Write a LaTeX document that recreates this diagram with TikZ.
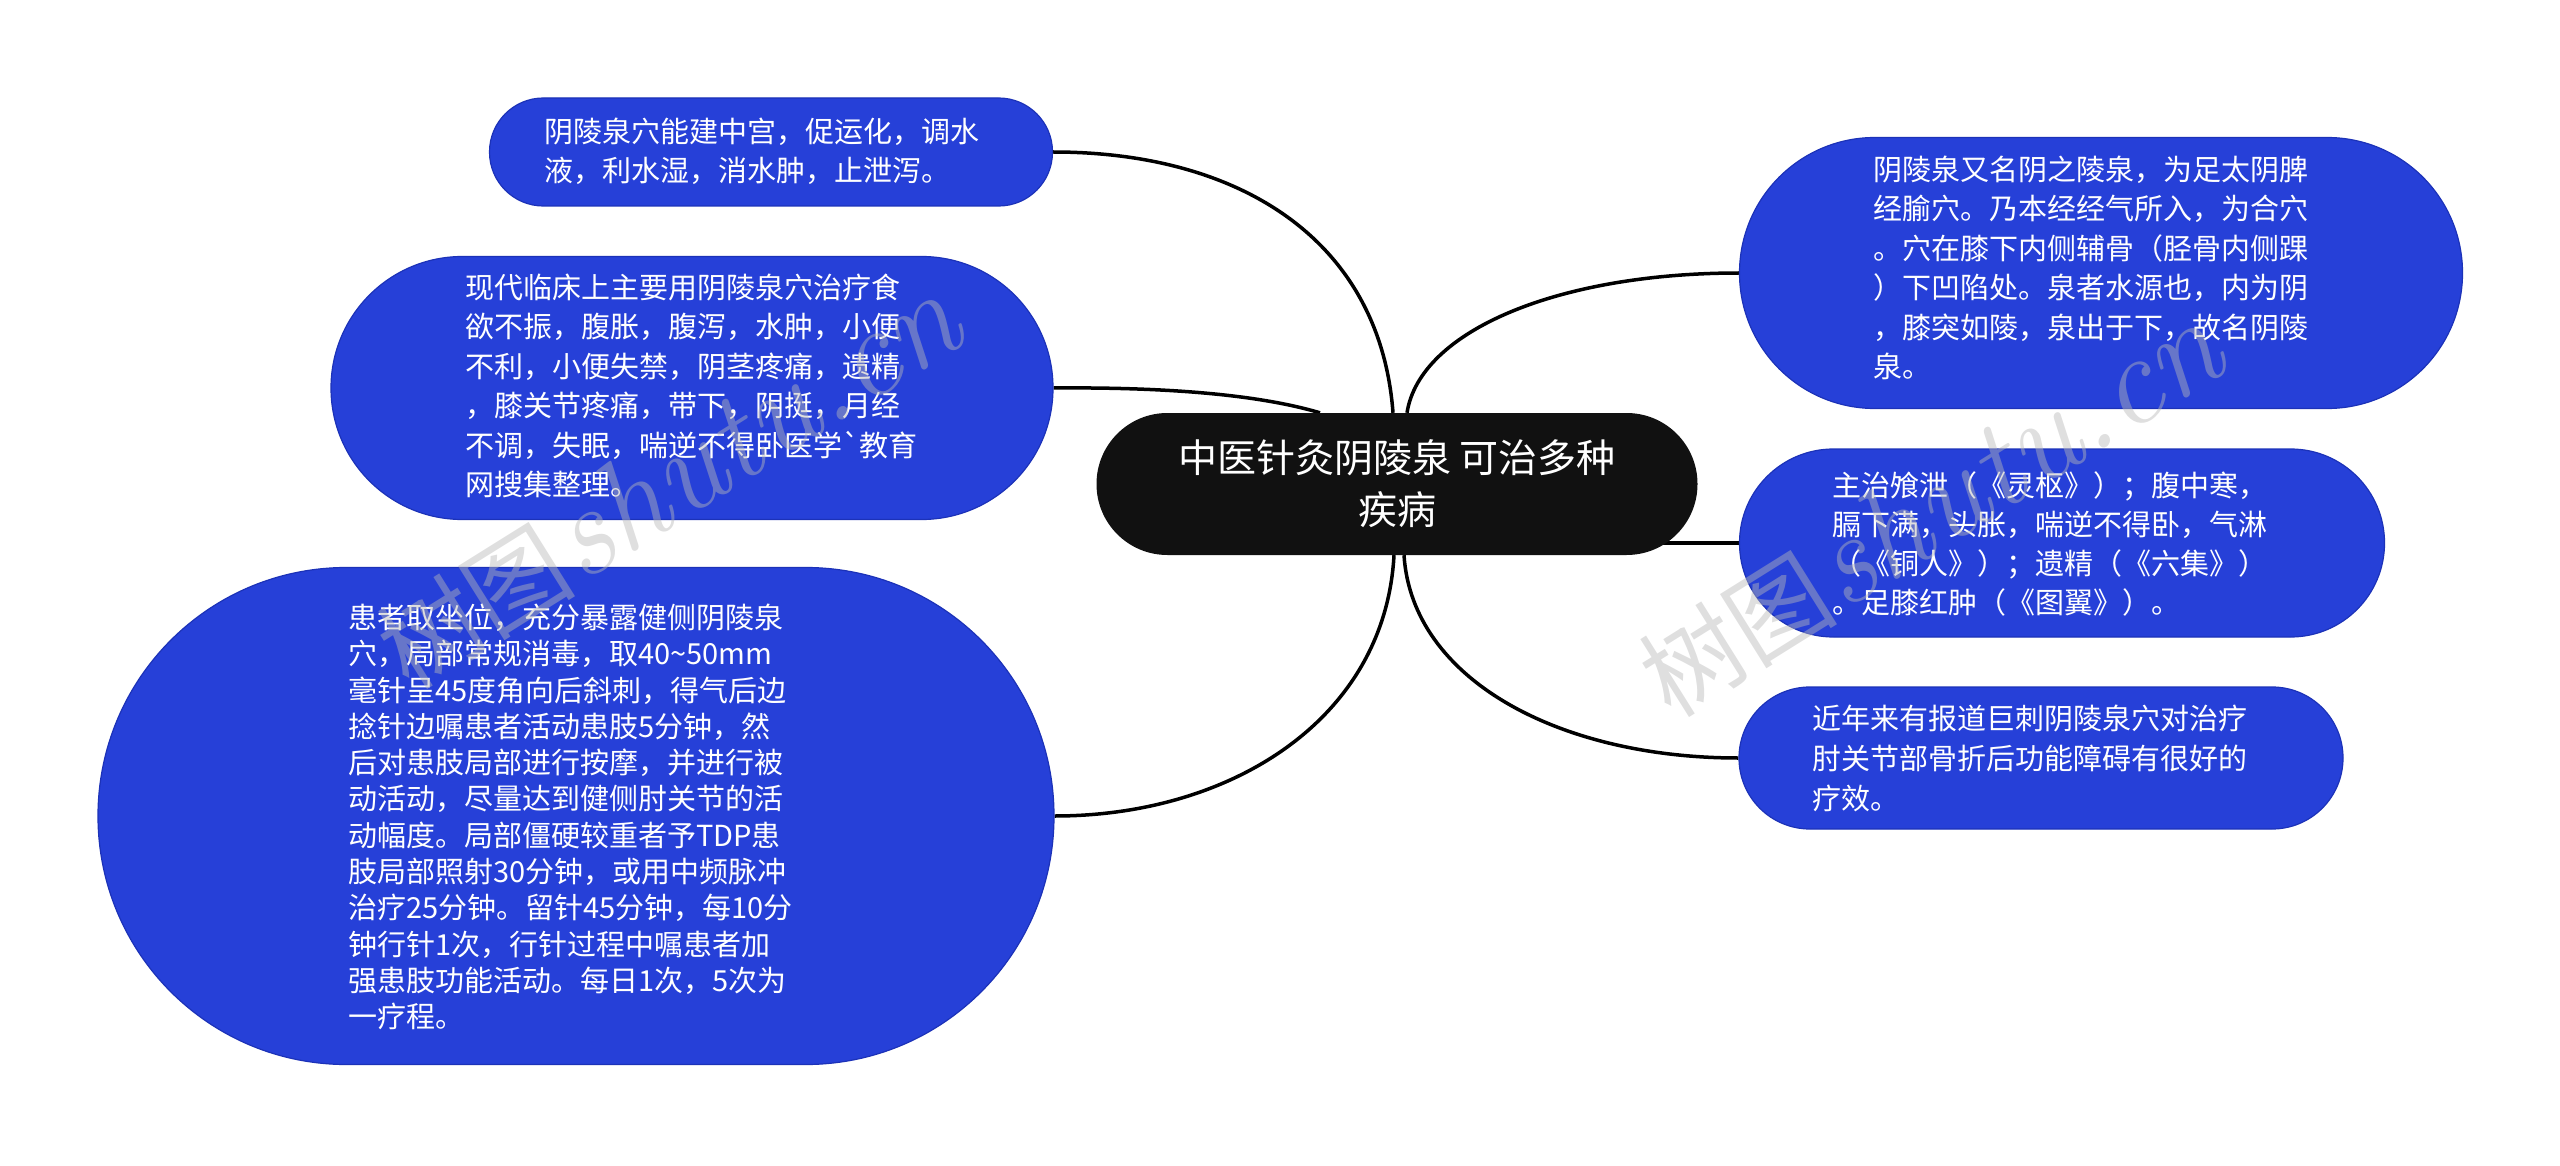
\documentclass[tikz,border=0pt]{standalone}
\usepackage{fontspec}
\newfontfamily\cjk{Noto Sans CJK SC}
\usetikzlibrary{calc}
\pgfdeclarelayer{bg}
\pgfsetlayers{bg,main}
\definecolor{bub}{HTML}{2640D8}
\definecolor{bubline}{HTML}{1C32B8}
\definecolor{core}{HTML}{111111}
\begin{document}
\begin{tikzpicture}[x=1pt,y=-1pt,
  bubble/.style={fill=bub,draw=bubline,line width=1.2pt,inner sep=0pt},
  txt/.style={text=white,font=\cjk\fontsize{29}{39}\selectfont,align=left,anchor=west,inner sep=0pt},
  link/.style={draw=black,line width=3.5pt},
  wm/.style={text=black!28,opacity=0.45,inner sep=0pt}]
\useasboundingbox (0,0) rectangle (2560,1166);

% central
\node[fill=core,rounded corners=70.9pt,minimum width=601pt,minimum height=142pt,
      text=white,font=\cjk\fontsize{39}{52}\selectfont,align=center] (c) at (1397,484)
      {中医针灸阴陵泉 可治多种\\疾病};

% left bubbles
\node[bubble,minimum width=563pt,minimum height=108pt,rounded corners=53.9pt] (n1) at (771,152) {};
\node[txt] (t1) at (544,151) {阴陵泉穴能建中宫，促运化，调水\\液，利水湿，消水肿，止泄泻。};

\node[bubble,minimum width=722pt,minimum height=263pt,rounded corners=131.4pt] (n2) at (692,388) {};
\node[txt,font=\cjk\fontsize{29}{39.5}\selectfont] (t2) at (465,386) {现代临床上主要用阴陵泉穴治疗食\\欲不振，腹胀，腹泻，水肿，小便\\不利，小便失禁，阴茎疼痛，遗精\\，膝关节疼痛，带下，阴挺，月经\\不调，失眠，喘逆不得卧医学`教育\\网搜集整理。};

\node[bubble,minimum width=956pt,minimum height=497pt,rounded corners=248.4pt] (n3) at (576,816) {};
\node[txt,font=\cjk\fontsize{29}{36.3}\selectfont] (t3) at (348,817) {患者取坐位，充分暴露健侧阴陵泉\\穴，局部常规消毒，取40{\char"007E}50mm\\毫针呈45度角向后斜刺，得气后边\\捻针边嘱患者活动患肢5分钟，然\\后对患肢局部进行按摩，并进行被\\动活动，尽量达到健侧肘关节的活\\动幅度。局部僵硬较重者予TDP患\\肢局部照射30分钟，或用中频脉冲\\治疗25分钟。留针45分钟，每10分\\钟行针1次，行针过程中嘱患者加\\强患肢功能活动。每日1次，5次为\\一疗程。};

% right bubbles
\node[bubble,minimum width=723pt,minimum height=271pt,rounded corners=135.4pt] (r1) at (2101,273) {};
\node[txt,font=\cjk\fontsize{29}{39.5}\selectfont] (tr1) at (1873,268) {阴陵泉又名阴之陵泉，为足太阴脾\\经腧穴。乃本经经气所入，为合穴\\。穴在膝下内侧辅骨（胫骨内侧踝\\）下凹陷处。泉者水源也，内为阴\\，膝突如陵，泉出于下，故名阴陵\\泉。};

\node[bubble,minimum width=645pt,minimum height=188pt,rounded corners=93.9pt] (r2) at (2062,543) {};
\node[txt] (tr2) at (1832,544) {主治飧泄（《灵枢》）；腹中寒，\\膈下满，头胀，喘逆不得卧，气淋\\（《铜人》）；遗精（《六集》）\\。足膝红肿（《图翼》）。};

\node[bubble,minimum width=604pt,minimum height=142pt,rounded corners=70.9pt] (r3) at (2041,758) {};
\node[txt,font=\cjk\fontsize{29}{40}\selectfont] (tr3) at (1812,758) {近年来有报道巨刺阴陵泉穴对治疗\\肘关节部骨折后功能障碍有很好的\\疗效。};

% connectors
\begin{pgfonlayer}{bg}
\draw[link] ($(c.north)+(-4,0)$) .. controls (1380,240) and (1240,152) .. (n1.east);
\draw[link] ($(c.north)+(-77,0)$) .. controls (1260,395) and (1170,387) .. (n2.east);
\draw[link] ($(c.south)+(-3,0)$) .. controls (1385,720) and (1230,816) .. (n3.east);
\draw[link] ($(c.north)+(10,0)$) .. controls (1420,330) and (1560,273) .. (r1.west);
\draw[link] ($(c.center)+(250,59)$) -- (r2.west);
\draw[link] ($(c.south)+(7,0)$) .. controls (1412,680) and (1560,758) .. (r3.west);
\end{pgfonlayer}

% watermarks
\node[wm,rotate=32] (w1) at (668,482) {{\cjk\fontsize{100}{100}\selectfont 树图} {\fontsize{128}{128}\selectfont\itshape shutu.cn}};
\node[wm,rotate=32] (w2) at (1930,510) {{\cjk\fontsize{100}{100}\selectfont 树图} {\fontsize{128}{128}\selectfont\itshape shutu.cn}};
\end{tikzpicture}
\end{document}
